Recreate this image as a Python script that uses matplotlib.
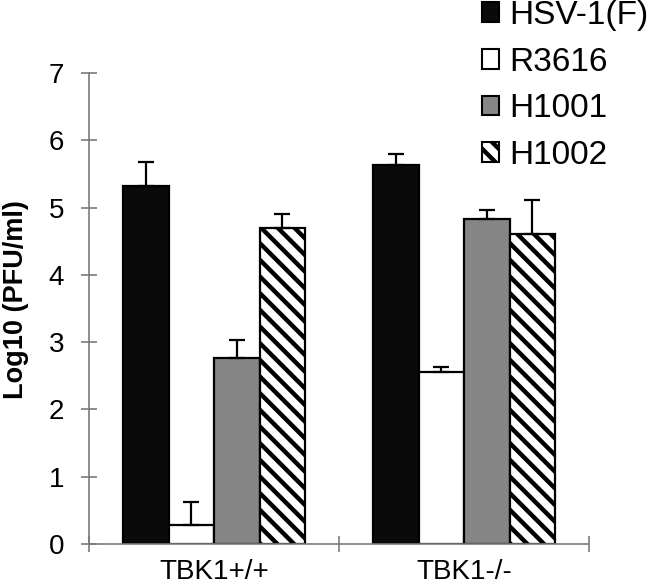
import numpy as np
import matplotlib
matplotlib.use("Agg")
import matplotlib.pyplot as plt
from matplotlib.patches import Patch

plt.rcParams["font.family"] = ["Liberation Sans", "DejaVu Sans"]
plt.rcParams["hatch.linewidth"] = 3.2

# ============================
# data
# ============================
groups = ["TBK1+/+", "TBK1-/-"]
series = ["HSV-1(F)", "R3616", "H1001", "H1002"]
means = {
    "HSV-1(F)": [5.32, 5.63],
    "R3616": [0.28, 2.56],
    "H1001": [2.77, 4.83],
    "H1002": [4.70, 4.61],
}
errs = {
    "HSV-1(F)": [0.35, 0.17],
    "R3616": [0.34, 0.07],
    "H1001": [0.26, 0.14],
    "H1002": [0.21, 0.50],
}
yticks = [0, 1, 2, 3, 4, 5, 6, 7]

styles = {
    "HSV-1(F)": dict(facecolor="#0a0a0a", hatch=None),
    "R3616": dict(facecolor="white", hatch=None),
    "H1001": dict(facecolor="#868686", hatch=None),
    "H1002": dict(facecolor="white", hatch="\\\\"),
}

fig = plt.figure(figsize=(6.5, 5.88), dpi=100)
ax = fig.add_axes([89 / 650, 44 / 588, 500 / 650, 471 / 588])

x = np.arange(len(groups))
w = 0.182
gray = "#7a7a7a"

for i, s in enumerate(series):
    pos = x + (i - 1.5) * w
    ax.bar(
        pos,
        means[s],
        width=w,
        facecolor=styles[s]["facecolor"],
        edgecolor="black",
        linewidth=1.6,
        hatch=styles[s]["hatch"],
        zorder=2,
    )
    ax.errorbar(
        pos,
        means[s],
        yerr=[np.zeros(len(groups)), errs[s]],
        fmt="none",
        ecolor="black",
        elinewidth=1.6,
        capsize=6,
        capthick=1.6,
        zorder=3,
    )

ax.set_xlim(-0.5, 1.5)
ax.set_ylim(0, 7)

ax.spines["top"].set_visible(False)
ax.spines["right"].set_visible(False)
ax.spines["left"].set_color(gray)
ax.spines["bottom"].set_color(gray)
ax.spines["left"].set_linewidth(1.2)
ax.spines["bottom"].set_linewidth(1.2)

ax.set_yticks(yticks)
ax.tick_params(axis="y", direction="inout", length=12, width=1.2,
               color=gray, labelsize=20, pad=12)

ax.set_xticks(x)
ax.set_xticklabels(groups)
ax.set_xticks([-0.5, 0.5, 1.5], minor=True)
ax.tick_params(axis="x", which="major", length=0, labelsize=20, pad=11)
ax.tick_params(axis="x", which="minor", direction="inout", length=12,
               width=1.2, color=gray)

ax.set_ylabel("Log10 (PFU/ml)", fontsize=19.5, fontweight="bold")
ax.yaxis.set_label_coords(-0.12, 0.518)

handles = [
    Patch(facecolor=styles[s]["facecolor"], edgecolor="black",
          hatch=styles[s]["hatch"], linewidth=1.5, label=s)
    for s in series
]
fig.legend(
    handles=handles,
    loc="upper left",
    bbox_to_anchor=(482 / 650, 1.0),
    frameon=False,
    fontsize=24,
    handlelength=0.52,
    handleheight=0.52,
    handletextpad=0.3,
    labelspacing=0.47,
    borderpad=0.0,
    borderaxespad=0.0,
)

fig.savefig("out.png", dpi=100)
